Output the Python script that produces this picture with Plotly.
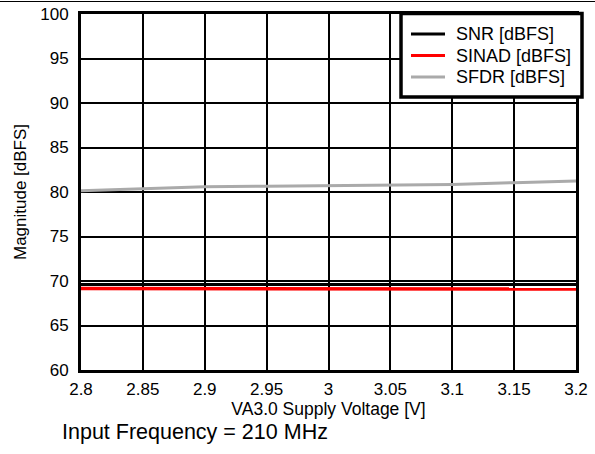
import plotly.graph_objects as go

# ── data ──────────────────────────────────────────────────────────────────────
voltage = [2.8, 2.85, 2.9, 2.95, 3.0, 3.05, 3.1, 3.15, 3.2]
snr = [69.6, 69.6, 69.6, 69.55, 69.55, 69.55, 69.6, 69.6, 69.6]
sinad = [69.15, 69.15, 69.15, 69.1, 69.1, 69.1, 69.15, 69.15, 69.1]
sfdr = [80.15, 80.37, 80.58, 80.65, 80.72, 80.8, 80.85, 81.05, 81.25]

x_ticks = [2.8, 2.85, 2.9, 2.95, 3.0, 3.05, 3.1, 3.15, 3.2]
x_tick_text = ["2.8", "2.85", "2.9", "2.95", "3", "3.05", "3.1", "3.15", "3.2"]
y_ticks = [60, 65, 70, 75, 80, 85, 90, 95, 100]

legend_items = [("SNR [dBFS]", "black"), ("SINAD [dBFS]", "#ff0000"),
                ("SFDR [dBFS]", "#aaaaaa")]

FONT = "Liberation Sans, Arial, sans-serif"

# plot area in page pixels
L, R, T, B = 81, 576, 14, 370
W, H = 595, 454


def px_x(x):
    return (x - L) / (R - L)


def px_y(y):
    return (B - y) / (B - T)


fig = go.Figure()
fig.add_trace(go.Scatter(x=voltage, y=sfdr, mode="lines", name="SFDR [dBFS]",
                         line=dict(color="#aaaaaa", width=3)))
fig.add_trace(go.Scatter(x=voltage, y=snr, mode="lines", name="SNR [dBFS]",
                         line=dict(color="black", width=3)))
fig.add_trace(go.Scatter(x=voltage, y=sinad, mode="lines", name="SINAD [dBFS]",
                         line=dict(color="#ff0000", width=3.5)))

axis_common = dict(
    showline=True, linecolor="black", linewidth=3, mirror=True,
    showgrid=True, gridcolor="black", gridwidth=1.5,
    ticks="", zeroline=False, automargin=False,
    tickfont=dict(family=FONT, size=17, color="black"),
)

fig.update_layout(
    width=W, height=H,
    margin=dict(l=L, r=W - R, t=T, b=H - B),
    paper_bgcolor="white", plot_bgcolor="white",
    font=dict(family=FONT, color="black"),
    showlegend=False,
    xaxis=dict(range=[2.8, 3.2], tickvals=x_ticks, ticktext=x_tick_text,
               ticklabelstandoff=2,
               title=dict(text="VA3.0 Supply Voltage [V]", standoff=0,
                          font=dict(family=FONT, size=17.5)),
               **axis_common),
    yaxis=dict(range=[60, 100], tickvals=y_ticks, ticklabelstandoff=6,
               title=dict(text="Magnitude [dBFS]", standoff=10,
                          font=dict(family=FONT, size=17)),
               **axis_common),
)

# legend box (drawn by hand so it can hang over the frame like the original)
fig.add_shape(type="rect", xref="paper", yref="paper",
              x0=px_x(401), x1=px_x(582), y0=px_y(97), y1=px_y(13.5),
              fillcolor="white", line=dict(color="black", width=3.5))
for i, (name, col) in enumerate(legend_items):
    yy = 34 + i * 21.5
    fig.add_shape(type="line", xref="paper", yref="paper",
                  x0=px_x(411), x1=px_x(445), y0=px_y(yy), y1=px_y(yy),
                  line=dict(color=col, width=3))
    fig.add_annotation(text=name, xref="paper", yref="paper",
                       x=px_x(454), y=px_y(yy), xanchor="left", yanchor="middle",
                       showarrow=False, font=dict(family=FONT, size=18))

fig.add_annotation(text="Input Frequency = 210 MHz", xref="paper", yref="paper",
                   x=px_x(60), y=px_y(432), xanchor="left", yanchor="middle",
                   showarrow=False, font=dict(family=FONT, size=21.5))

# thin frame line along the top of the page
fig.add_shape(type="line", xref="paper", yref="paper",
              x0=px_x(0), x1=px_x(W), y0=px_y(1.5), y1=px_y(1.5),
              line=dict(color="black", width=1))

fig.write_html("out.html", config={"displayModeBar": False},
               post_script="document.body.style.margin='0';")
